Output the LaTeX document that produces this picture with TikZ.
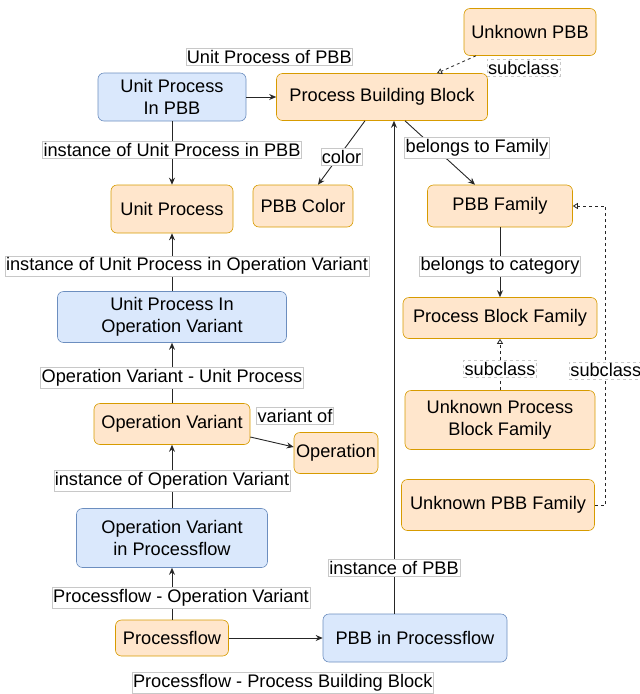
\documentclass[tikz,border=0pt]{standalone}
\usepackage{fontspec}
\setmainfont{Liberation Sans}
\usepackage{tikz}
\usetikzlibrary{arrows.meta,positioning}
\definecolor{pbbfill}{HTML}{FFE6CC}
\definecolor{pbbline}{HTML}{D79B00}
\definecolor{instfill}{HTML}{DAE8FC}
\definecolor{instline}{HTML}{6C8EBF}
\definecolor{lblline}{HTML}{C8C8C8}
\tikzset{
  cls/.style={draw=pbbline,fill=pbbfill,rounded corners=6pt,align=center,inner sep=2pt,line width=0.6pt},
  inst/.style={draw=instline,fill=instfill,rounded corners=6pt,align=center,inner sep=2pt,line width=0.6pt},
  lbl/.style={draw=lblline,fill=white,inner xsep=1pt,inner ysep=2pt,line width=0.5pt},
  rel/.style={-{Stealth[length=7pt,width=6pt]},line width=0.9pt,draw=black!85},
  subcls/.style={-{Triangle[open,length=5pt,width=6pt]},line width=0.8pt,draw=black!85,dashed}
}

\begin{document}
\begin{tikzpicture}[x=1pt,y=-1pt,font=\fontsize{18.2}{21.5}\selectfont]
  \useasboundingbox (0,0) rectangle (640,694);
  % classes and instances
  \node[inst,minimum width=148pt,minimum height=48pt] (upp) at (172,97) {Unit Process\\In PBB};
  \node[cls,minimum width=211pt,minimum height=47pt] (pbb) at (382,97) {Process Building Block};
  \node[cls,minimum width=132pt,minimum height=47pt] (upbb) at (530,32) {Unknown PBB};
  \node[cls,minimum width=122pt,minimum height=48pt] (up) at (172,209) {Unit Process};
  \node[cls,minimum width=100pt,minimum height=42pt] (color) at (303,206) {PBB Color};
  \node[cls,minimum width=145pt,minimum height=42pt] (fam) at (500,206) {PBB Family};
  \node[cls,minimum width=194pt,minimum height=41pt] (pbf) at (500,318) {Process Block Family};
  \node[cls,minimum width=190pt,minimum height=59pt] (upbf) at (500,420) {Unknown Process\\Block Family};
  \node[cls,minimum width=193pt,minimum height=51pt] (ufam) at (498,505) {Unknown PBB Family};
  \node[inst,minimum width=229pt,minimum height=51pt] (upov) at (172,317) {Unit Process In\\Operation Variant};
  \node[cls,minimum width=156pt,minimum height=41pt] (ov) at (172,424) {Operation Variant};
  \node[cls,minimum width=84pt,minimum height=41pt,inner sep=0pt] (op) at (336,453) {Operation};
  \node[inst,minimum width=191pt,minimum height=59pt] (ovpf) at (172,538) {Operation Variant\\in Processflow};
  \node[cls,minimum width=113pt,minimum height=36pt] (pf) at (172,638) {Processflow};
  \node[inst,minimum width=184pt,minimum height=48pt] (pbbpf) at (415,638) {PBB in Processflow};
  % relations
  \draw[rel] (upp) -- node[lbl,xshift=8pt,yshift=40pt] (lupp) {Unit Process of PBB} (pbb);
  \draw[rel] (upp) -- node[lbl,yshift=3pt] (lup) {instance of Unit Process in PBB} (up);
  \draw[rel] ([xshift=-17pt]pbb.south) -- node[lbl,yshift=-4pt] (lcol) {color} ([xshift=15pt]color.north);
  \draw[rel] ([xshift=23pt]pbb.south) -- node[lbl,xshift=37pt,yshift=5pt] (lfam) {belongs to Family} ([xshift=-25pt]fam.north);
  \draw[rel] (fam) -- node[lbl,yshift=-4pt] (lcat) {belongs to category} (pbf);
  \draw[rel] (upov) -- node[lbl,xshift=15pt,yshift=-4pt] (lupov) {instance of Unit Process in Operation Variant} (up);
  \draw[rel] (ov) -- node[lbl,yshift=-5pt] (lov) {Operation Variant - Unit Process} (upov);
  \draw[rel] (ov.east |- 0,437) -- node[lbl,xshift=23pt,yshift=26pt] (lop) {variant of} (op.west |- 0,447);
  \draw[rel] (ovpf) -- node[lbl,yshift=-4pt] (lovpf) {instance of Operation Variant} (ov);
  \draw[rel] (pf) -- node[lbl,xshift=9pt,yshift=-4pt] (lpf) {Processflow - Operation Variant} (ovpf);
  \draw[rel] (pf) -- node[lbl,xshift=7pt,yshift=-45pt] (lpfpbb) {Processflow - Process Building Block} (pbbpf);
  \draw[rel] ([xshift=-21pt]pbbpf.north) -- node[lbl,pos=0.093] (linst) {instance of PBB} ([xshift=-21pt]pbbpf.north |- pbb.south);
  % subclasses
  \draw[subcls] ([xshift=-54pt]upbb.south) -- node[lbl,xshift=67pt,yshift=-3pt] (lsub1) {subclass} ([xshift=55pt]pbb.north);
  \draw[subcls] (upbf) -- node[lbl,yshift=-4pt] (lsub2) {subclass} (pbf);
  \draw[subcls] (ufam.east) -- ++(11,0) coordinate (turn) -- node[lbl,pos=0.45] (lsub3) {subclass} (turn |- fam.east) -- (fam.east);
\end{tikzpicture}
\end{document}
